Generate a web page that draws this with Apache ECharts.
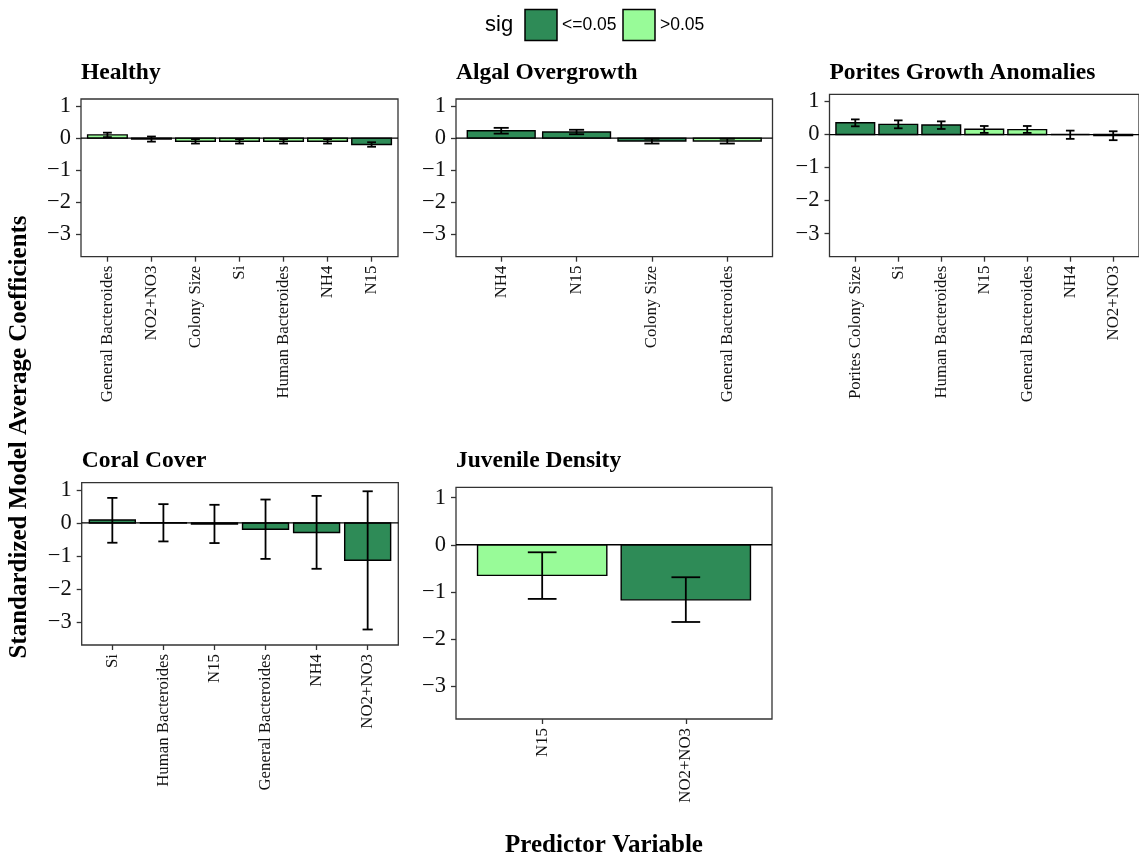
<!DOCTYPE html>
<html><head><meta charset="utf-8">
<script src="https://cdn.jsdelivr.net/npm/echarts@6/dist/echarts.min.js"></script>
<style>html,body{margin:0;padding:0;background:#fff}#c{width:1139px;height:858px}</style>
</head><body><div id="c"></div><script>
// ---------- DATA ----------
const panelTitles = ['Healthy', 'Algal Overgrowth', 'Porites Growth Anomalies', 'Coral Cover', 'Juvenile Density'];
const sigLevels = ['<=0.05', '>0.05'];
const yTicks = [-3, -2, -1, 0, 1];

const healthyCats = ['General Bacteroides', 'NO2+NO3', 'Colony Size', 'Si', 'Human Bacteroides', 'NH4', 'N15'];
const healthyVals = [0.10, -0.03, -0.10, -0.10, -0.10, -0.10, -0.20];
const healthyLow  = [0.03, -0.11, -0.17, -0.17, -0.17, -0.17, -0.27];
const healthyHigh = [0.17, 0.05, -0.03, -0.03, -0.03, -0.03, -0.13];
const healthySig  = ['>0.05', '<=0.05', '>0.05', '>0.05', '>0.05', '>0.05', '<=0.05'];

const algalCats = ['NH4', 'N15', 'Colony Size', 'General Bacteroides'];
const algalVals = [0.23, 0.19, -0.09, -0.09];
const algalLow  = [0.14, 0.12, -0.17, -0.17];
const algalHigh = [0.32, 0.26, -0.02, -0.02];
const algalSig  = ['<=0.05', '<=0.05', '<=0.05', '>0.05'];

const poritesCats = ['Porites Colony Size', 'Si', 'Human Bacteroides', 'N15', 'General Bacteroides', 'NH4', 'NO2+NO3'];
const poritesVals = [0.36, 0.31, 0.29, 0.16, 0.15, 0.00, -0.03];
const poritesLow  = [0.25, 0.19, 0.17, 0.05, 0.05, -0.13, -0.17];
const poritesHigh = [0.46, 0.43, 0.40, 0.26, 0.26, 0.12, 0.10];
const poritesSig  = ['<=0.05', '<=0.05', '<=0.05', '>0.05', '>0.05', '>0.05', '>0.05'];

const coralCats = ['Si', 'Human Bacteroides', 'N15', 'General Bacteroides', 'NH4', 'NO2+NO3'];
const coralVals = [0.09, 0.01, -0.03, -0.19, -0.29, -1.13];
const coralLow  = [-0.60, -0.56, -0.61, -1.09, -1.39, -3.23];
const coralHigh = [0.76, 0.57, 0.55, 0.71, 0.82, 0.96];
const coralSig  = ['<=0.05', '<=0.05', '<=0.05', '<=0.05', '<=0.05', '<=0.05'];

const juvCats = ['N15', 'NO2+NO3'];
const juvVals = [-0.65, -1.17];
const juvLow  = [-1.15, -1.64];
const juvHigh = [-0.16, -0.69];
const juvSig  = ['>0.05', '<=0.05'];

// ---------- LAYOUT / STYLE ----------
const sigColors = ['#2E8B57', '#98FB98'];
const yMin = -3.7, yMax = 1.22;
const serif = "'Liberation Serif','Times New Roman',serif";
const sans = "'Liberation Sans',Arial,sans-serif";

const panels = [
  {title: panelTitles[0], cats: healthyCats, vals: healthyVals, low: healthyLow, high: healthyHigh, sig: healthySig, box: [81, 99, 317, 157.7], ty: 74},
  {title: panelTitles[1], cats: algalCats, vals: algalVals, low: algalLow, high: algalHigh, sig: algalSig, box: [456, 99, 316.5, 157.7], ty: 74},
  {title: panelTitles[2], cats: poritesCats, vals: poritesVals, low: poritesLow, high: poritesHigh, sig: poritesSig, box: [829.5, 94.3, 316, 162.4], ty: 74},
  {title: panelTitles[3], cats: coralCats, vals: coralVals, low: coralLow, high: coralHigh, sig: coralSig, box: [81.7, 482.7, 316.6, 162.3], ty: 462},
  {title: panelTitles[4], cats: juvCats, vals: juvVals, low: juvLow, high: juvHigh, sig: juvSig, box: [456, 487.3, 316, 231.7], ty: 462}
];

const grid = [], xAxis = [], yAxis = [], series = [], graphic = [];

function fmtY(v) { return v < 0 ? '\u2212' + (-v) : String(v); }

panels.forEach((p, i) => {
  const n = p.cats.length;
  grid.push({left: p.box[0], top: p.box[1], width: p.box[2], height: p.box[3],
    show: true, borderColor: '#333', borderWidth: 1.3, backgroundColor: '#fff'});
  const idx = p.cats.map((c, j) => j);
  xAxis.push({type: 'value', gridIndex: i, min: -0.6, max: n - 0.4, position: 'bottom',
    splitLine: {show: false}, axisLine: {show: false, onZero: false},
    axisTick: {show: true, customValues: idx, length: 5, lineStyle: {color: '#333', width: 1.3}},
    axisLabel: {show: true, customValues: idx, rotate: 90, margin: 9,
      formatter: v => p.cats[Math.round(v)] || '',
      fontFamily: serif, fontSize: 16.8, color: '#111'}});
  yAxis.push({type: 'value', gridIndex: i, min: yMin, max: yMax, position: 'left',
    splitLine: {show: false}, axisLine: {show: false, onZero: false},
    axisTick: {show: true, customValues: yTicks, length: 5, lineStyle: {color: '#333', width: 1.3}},
    axisLabel: {show: true, customValues: yTicks, margin: 10, formatter: fmtY,
      fontFamily: serif, fontSize: 22.5, color: '#111'}});
  // bars
  series.push({type: 'custom', xAxisIndex: i, yAxisIndex: i, z: 2,
    data: p.cats.map((c, j) => [j, p.vals[j], sigLevels.indexOf(p.sig[j])]),
    renderItem: (params, api) => {
      const x = api.value(0), v = api.value(1), s = api.value(2);
      const a = api.coord([x - 0.45, 0]);
      const b = api.coord([x + 0.45, v]);
      return {type: 'rect', shape: {x: a[0], y: Math.min(a[1], b[1]), width: b[0] - a[0], height: Math.abs(b[1] - a[1])},
        style: {fill: sigColors[s], stroke: '#000', lineWidth: 1.4}};
    }});
  // zero line
  series.push({type: 'line', xAxisIndex: i, yAxisIndex: i, z: 3, symbol: 'none', silent: true,
    data: [[-0.6, 0], [n - 0.4, 0]], lineStyle: {color: '#000', width: 1.3}});
  // error bars
  series.push({type: 'custom', xAxisIndex: i, yAxisIndex: i, z: 4,
    data: p.cats.map((c, j) => [j, p.low[j], p.high[j]]),
    renderItem: (params, api) => {
      const x = api.value(0), lo = api.value(1), hi = api.value(2);
      const t = api.coord([x, hi]), bt = api.coord([x, lo]);
      const l = api.coord([x - 0.1, hi])[0], r = api.coord([x + 0.1, hi])[0];
      const st = {stroke: '#000', lineWidth: 1.8};
      return {type: 'group', children: [
        {type: 'line', shape: {x1: t[0], y1: t[1], x2: bt[0], y2: bt[1]}, style: st},
        {type: 'line', shape: {x1: l, y1: t[1], x2: r, y2: t[1]}, style: st},
        {type: 'line', shape: {x1: l, y1: bt[1], x2: r, y2: bt[1]}, style: st}
      ]};
    }});
  graphic.push({type: 'text', left: p.box[0], top: p.ty - 13,
    style: {text: p.title, font: 'bold 23.5px ' + serif, fill: '#000'}});
});

// axis titles
graphic.push({type: 'text', x: 20, y: 437, rotation: Math.PI / 2,
  style: {text: 'Standardized Model Average Coefficients', font: 'bold 25px ' + serif, fill: '#000', textAlign: 'center', textVerticalAlign: 'middle'}});
graphic.push({type: 'text', x: 604, y: 846,
  style: {text: 'Predictor Variable', font: 'bold 25px ' + serif, fill: '#000', textAlign: 'center', textVerticalAlign: 'middle'}});
// legend
graphic.push({type: 'text', x: 485, y: 25, style: {text: 'sig', font: '22px ' + sans, fill: '#000', textVerticalAlign: 'middle'}});
graphic.push({type: 'rect', shape: {x: 525, y: 9.5, width: 32, height: 31}, style: {fill: sigColors[0], stroke: '#000', lineWidth: 1.5}});
graphic.push({type: 'text', x: 562, y: 25, style: {text: sigLevels[0], font: '17.5px ' + sans, fill: '#000', textVerticalAlign: 'middle'}});
graphic.push({type: 'rect', shape: {x: 623, y: 9.5, width: 32, height: 31}, style: {fill: sigColors[1], stroke: '#000', lineWidth: 1.5}});
graphic.push({type: 'text', x: 660, y: 25, style: {text: sigLevels[1], font: '17.5px ' + sans, fill: '#000', textVerticalAlign: 'middle'}});

const chart = echarts.init(document.getElementById('c'), null, {renderer: 'canvas'});
chart.setOption({animation: false, backgroundColor: '#fff', grid, xAxis, yAxis, series, graphic});
</script></body></html>
